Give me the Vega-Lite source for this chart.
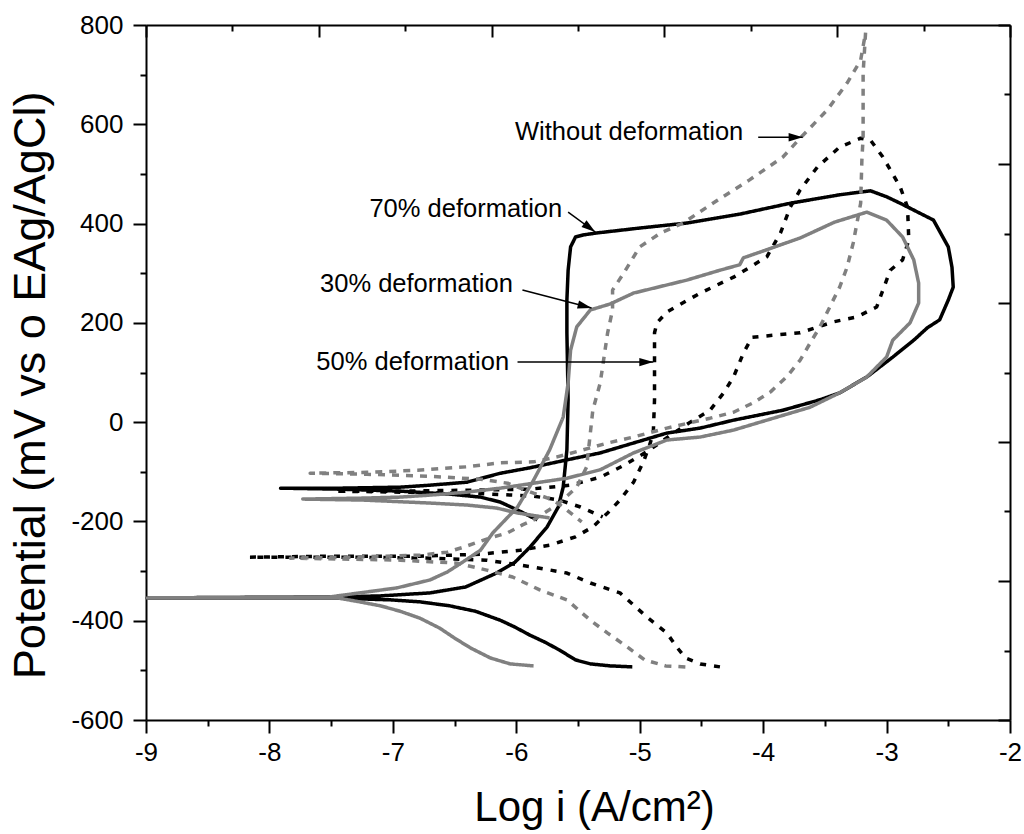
{
  "$schema": "https://vega.github.io/schema/vega-lite/v6.json",
  "width": 864,
  "height": 695,
  "autosize": "none",
  "padding": {"left": 146, "top": 25, "right": 14, "bottom": 114},
  "background": "white",
  "config": {
    "view": {"stroke": null},
    "font": "Liberation Sans",
    "axis": {
      "grid": false,
      "domainColor": "black",
      "domainWidth": 2,
      "tickColor": "black",
      "tickWidth": 2,
      "labelColor": "black",
      "labelFont": "Liberation Sans",
      "labelFontSize": 26,
      "titleFont": "Liberation Sans",
      "titleColor": "black",
      "titleFontWeight": "normal"
    }
  },
  "datasets": {
    "curves": [
      {"sample":"70%","idx":0,"logi":-5.06,"E":-493},{"sample":"70%","idx":1,"logi":-5.24,"E":-491},{"sample":"70%","idx":2,"logi":-5.40,"E":-487},{"sample":"70%","idx":3,"logi":-5.52,"E":-479},{"sample":"70%","idx":4,"logi":-5.65,"E":-459},{"sample":"70%","idx":5,"logi":-5.77,"E":-443},{"sample":"70%","idx":6,"logi":-5.89,"E":-429},{"sample":"70%","idx":7,"logi":-6.01,"E":-413},{"sample":"70%","idx":8,"logi":-6.13,"E":-399},{"sample":"70%","idx":9,"logi":-6.33,"E":-381},{"sample":"70%","idx":10,"logi":-6.54,"E":-370},{"sample":"70%","idx":11,"logi":-6.78,"E":-362},{"sample":"70%","idx":12,"logi":-7.02,"E":-358},{"sample":"70%","idx":13,"logi":-7.27,"E":-356},{"sample":"70%","idx":14,"logi":-7.45,"E":-354},{"sample":"70%","idx":15,"logi":-8.99,"E":-354},{"sample":"70%","idx":16,"logi":-7.43,"E":-352},{"sample":"70%","idx":17,"logi":-7.10,"E":-350},{"sample":"70%","idx":18,"logi":-6.70,"E":-344},{"sample":"70%","idx":19,"logi":-6.41,"E":-332},{"sample":"70%","idx":20,"logi":-6.16,"E":-304},{"sample":"70%","idx":21,"logi":-6.01,"E":-282},{"sample":"70%","idx":22,"logi":-5.89,"E":-252},{"sample":"70%","idx":23,"logi":-5.75,"E":-211},{"sample":"70%","idx":24,"logi":-5.66,"E":-171},{"sample":"70%","idx":25,"logi":-5.62,"E":-131},{"sample":"70%","idx":26,"logi":-5.59,"E":-56},{"sample":"70%","idx":27,"logi":-5.58,"E":45},{"sample":"70%","idx":28,"logi":-5.59,"E":180},{"sample":"70%","idx":29,"logi":-5.59,"E":246},{"sample":"70%","idx":30,"logi":-5.58,"E":306},{"sample":"70%","idx":31,"logi":-5.56,"E":353},{"sample":"70%","idx":32,"logi":-5.52,"E":373},{"sample":"70%","idx":33,"logi":-5.46,"E":377},{"sample":"70%","idx":34,"logi":-5.35,"E":381},{"sample":"70%","idx":35,"logi":-5.00,"E":391},{"sample":"70%","idx":36,"logi":-4.62,"E":401},{"sample":"70%","idx":37,"logi":-4.19,"E":419},{"sample":"70%","idx":38,"logi":-3.78,"E":441},{"sample":"70%","idx":39,"logi":-3.38,"E":458},{"sample":"70%","idx":40,"logi":-3.13,"E":466},{"sample":"70%","idx":41,"logi":-3.00,"E":454},{"sample":"70%","idx":42,"logi":-2.89,"E":441},{"sample":"70%","idx":43,"logi":-2.62,"E":407},{"sample":"70%","idx":44,"logi":-2.50,"E":353},{"sample":"70%","idx":45,"logi":-2.47,"E":312},{"sample":"70%","idx":46,"logi":-2.46,"E":272},{"sample":"70%","idx":47,"logi":-2.50,"E":246},{"sample":"70%","idx":48,"logi":-2.57,"E":206},{"sample":"70%","idx":49,"logi":-2.67,"E":190},{"sample":"70%","idx":50,"logi":-2.78,"E":165},{"sample":"70%","idx":51,"logi":-2.95,"E":131},{"sample":"70%","idx":52,"logi":-3.16,"E":91},{"sample":"70%","idx":53,"logi":-3.38,"E":59},{"sample":"70%","idx":54,"logi":-3.54,"E":45},{"sample":"70%","idx":55,"logi":-3.84,"E":24},{"sample":"70%","idx":56,"logi":-4.24,"E":4},{"sample":"70%","idx":57,"logi":-4.51,"E":-12},{"sample":"70%","idx":58,"logi":-4.78,"E":-22},{"sample":"70%","idx":59,"logi":-5.05,"E":-42},{"sample":"70%","idx":60,"logi":-5.32,"E":-62},{"sample":"70%","idx":61,"logi":-5.59,"E":-76},{"sample":"70%","idx":62,"logi":-5.89,"E":-92},{"sample":"70%","idx":63,"logi":-6.13,"E":-103},{"sample":"70%","idx":64,"logi":-6.40,"E":-121},{"sample":"70%","idx":65,"logi":-6.70,"E":-127},{"sample":"70%","idx":66,"logi":-6.94,"E":-131},{"sample":"70%","idx":67,"logi":-7.43,"E":-133},{"sample":"70%","idx":68,"logi":-7.91,"E":-133},{"sample":"70%","idx":69,"logi":-7.43,"E":-135},{"sample":"70%","idx":70,"logi":-6.94,"E":-139},{"sample":"70%","idx":71,"logi":-6.54,"E":-145},{"sample":"70%","idx":72,"logi":-6.29,"E":-151},{"sample":"70%","idx":73,"logi":-6.13,"E":-161},{"sample":"70%","idx":74,"logi":-5.99,"E":-177},{"sample":"70%","idx":75,"logi":-5.83,"E":-197},

      {"sample":"50%","idx":0,"logi":-4.35,"E":-493},{"sample":"50%","idx":1,"logi":-4.51,"E":-487},{"sample":"50%","idx":2,"logi":-4.63,"E":-475},{"sample":"50%","idx":3,"logi":-4.70,"E":-453},{"sample":"50%","idx":4,"logi":-4.78,"E":-425},{"sample":"50%","idx":5,"logi":-4.94,"E":-393},{"sample":"50%","idx":6,"logi":-5.16,"E":-344},{"sample":"50%","idx":7,"logi":-5.40,"E":-324},{"sample":"50%","idx":8,"logi":-5.59,"E":-304},{"sample":"50%","idx":9,"logi":-5.86,"E":-292},{"sample":"50%","idx":10,"logi":-6.24,"E":-278},{"sample":"50%","idx":11,"logi":-6.70,"E":-274},{"sample":"50%","idx":12,"logi":-7.35,"E":-272},{"sample":"50%","idx":13,"logi":-8.16,"E":-272},{"sample":"50%","idx":14,"logi":-7.51,"E":-270},{"sample":"50%","idx":15,"logi":-6.78,"E":-270},{"sample":"50%","idx":16,"logi":-6.29,"E":-266},{"sample":"50%","idx":17,"logi":-5.97,"E":-258},{"sample":"50%","idx":18,"logi":-5.73,"E":-248},{"sample":"50%","idx":19,"logi":-5.52,"E":-231},{"sample":"50%","idx":20,"logi":-5.38,"E":-211},{"sample":"50%","idx":21,"logi":-5.26,"E":-183},{"sample":"50%","idx":22,"logi":-5.16,"E":-157},{"sample":"50%","idx":23,"logi":-5.05,"E":-121},{"sample":"50%","idx":24,"logi":-4.97,"E":-80},{"sample":"50%","idx":25,"logi":-4.92,"E":-46},{"sample":"50%","idx":26,"logi":-4.89,"E":-22},{"sample":"50%","idx":27,"logi":-4.88,"E":45},{"sample":"50%","idx":28,"logi":-4.88,"E":111},{"sample":"50%","idx":29,"logi":-4.88,"E":180},{"sample":"50%","idx":30,"logi":-4.86,"E":200},{"sample":"50%","idx":31,"logi":-4.78,"E":222},{"sample":"50%","idx":32,"logi":-4.51,"E":260},{"sample":"50%","idx":33,"logi":-4.24,"E":292},{"sample":"50%","idx":34,"logi":-3.97,"E":333},{"sample":"50%","idx":35,"logi":-3.86,"E":381},{"sample":"50%","idx":36,"logi":-3.78,"E":433},{"sample":"50%","idx":37,"logi":-3.70,"E":468},{"sample":"50%","idx":38,"logi":-3.56,"E":514},{"sample":"50%","idx":39,"logi":-3.38,"E":554},{"sample":"50%","idx":40,"logi":-3.21,"E":572},{"sample":"50%","idx":41,"logi":-3.13,"E":568},{"sample":"50%","idx":42,"logi":-3.03,"E":534},{"sample":"50%","idx":43,"logi":-2.89,"E":474},{"sample":"50%","idx":44,"logi":-2.83,"E":433},{"sample":"50%","idx":45,"logi":-2.82,"E":367},{"sample":"50%","idx":46,"logi":-2.87,"E":327},{"sample":"50%","idx":47,"logi":-2.97,"E":306},{"sample":"50%","idx":48,"logi":-3.03,"E":266},{"sample":"50%","idx":49,"logi":-3.08,"E":232},{"sample":"50%","idx":50,"logi":-3.24,"E":212},{"sample":"50%","idx":51,"logi":-3.43,"E":202},{"sample":"50%","idx":52,"logi":-3.70,"E":180},{"sample":"50%","idx":53,"logi":-3.92,"E":175},{"sample":"50%","idx":54,"logi":-4.09,"E":171},{"sample":"50%","idx":55,"logi":-4.16,"E":139},{"sample":"50%","idx":56,"logi":-4.24,"E":91},{"sample":"50%","idx":57,"logi":-4.32,"E":59},{"sample":"50%","idx":58,"logi":-4.43,"E":24},{"sample":"50%","idx":59,"logi":-4.59,"E":0},{"sample":"50%","idx":60,"logi":-4.75,"E":-26},{"sample":"50%","idx":61,"logi":-4.92,"E":-56},{"sample":"50%","idx":62,"logi":-5.12,"E":-86},{"sample":"50%","idx":63,"logi":-5.32,"E":-111},{"sample":"50%","idx":64,"logi":-5.56,"E":-127},{"sample":"50%","idx":65,"logi":-5.89,"E":-135},{"sample":"50%","idx":66,"logi":-6.37,"E":-137},{"sample":"50%","idx":67,"logi":-6.94,"E":-139},{"sample":"50%","idx":68,"logi":-7.47,"E":-139},{"sample":"50%","idx":69,"logi":-6.94,"E":-141},{"sample":"50%","idx":70,"logi":-6.37,"E":-143},{"sample":"50%","idx":71,"logi":-5.86,"E":-149},{"sample":"50%","idx":72,"logi":-5.65,"E":-157},{"sample":"50%","idx":73,"logi":-5.48,"E":-171},{"sample":"50%","idx":74,"logi":-5.30,"E":-191},

      {"sample":"0%","idx":0,"logi":-4.63,"E":-493},{"sample":"0%","idx":1,"logi":-4.79,"E":-491},{"sample":"0%","idx":2,"logi":-4.96,"E":-479},{"sample":"0%","idx":3,"logi":-5.10,"E":-453},{"sample":"0%","idx":4,"logi":-5.26,"E":-425},{"sample":"0%","idx":5,"logi":-5.40,"E":-399},{"sample":"0%","idx":6,"logi":-5.59,"E":-358},{"sample":"0%","idx":7,"logi":-5.81,"E":-338},{"sample":"0%","idx":8,"logi":-6.03,"E":-312},{"sample":"0%","idx":9,"logi":-6.24,"E":-298},{"sample":"0%","idx":10,"logi":-6.48,"E":-284},{"sample":"0%","idx":11,"logi":-6.94,"E":-278},{"sample":"0%","idx":12,"logi":-7.35,"E":-276},{"sample":"0%","idx":13,"logi":-7.83,"E":-274},{"sample":"0%","idx":14,"logi":-7.35,"E":-272},{"sample":"0%","idx":15,"logi":-6.78,"E":-268},{"sample":"0%","idx":16,"logi":-6.56,"E":-262},{"sample":"0%","idx":17,"logi":-6.43,"E":-252},{"sample":"0%","idx":18,"logi":-6.21,"E":-233},{"sample":"0%","idx":19,"logi":-6.07,"E":-223},{"sample":"0%","idx":20,"logi":-5.95,"E":-207},{"sample":"0%","idx":21,"logi":-5.86,"E":-197},{"sample":"0%","idx":22,"logi":-5.65,"E":-163},{"sample":"0%","idx":23,"logi":-5.51,"E":-131},{"sample":"0%","idx":24,"logi":-5.43,"E":-90},{"sample":"0%","idx":25,"logi":-5.40,"E":-22},{"sample":"0%","idx":26,"logi":-5.38,"E":24},{"sample":"0%","idx":27,"logi":-5.32,"E":79},{"sample":"0%","idx":28,"logi":-5.26,"E":180},{"sample":"0%","idx":29,"logi":-5.22,"E":226},{"sample":"0%","idx":30,"logi":-5.22,"E":266},{"sample":"0%","idx":31,"logi":-5.13,"E":300},{"sample":"0%","idx":32,"logi":-5.00,"E":353},{"sample":"0%","idx":33,"logi":-4.83,"E":381},{"sample":"0%","idx":34,"logi":-4.65,"E":401},{"sample":"0%","idx":35,"logi":-4.37,"E":447},{"sample":"0%","idx":36,"logi":-4.11,"E":488},{"sample":"0%","idx":37,"logi":-3.84,"E":534},{"sample":"0%","idx":38,"logi":-3.70,"E":572},{"sample":"0%","idx":39,"logi":-3.48,"E":629},{"sample":"0%","idx":40,"logi":-3.32,"E":683},{"sample":"0%","idx":41,"logi":-3.21,"E":729},{"sample":"0%","idx":42,"logi":-3.17,"E":785},{"sample":"0%","idx":43,"logi":-3.19,"E":703},{"sample":"0%","idx":44,"logi":-3.19,"E":643},{"sample":"0%","idx":45,"logi":-3.19,"E":574},{"sample":"0%","idx":46,"logi":-3.20,"E":528},{"sample":"0%","idx":47,"logi":-3.21,"E":441},{"sample":"0%","idx":48,"logi":-3.27,"E":361},{"sample":"0%","idx":49,"logi":-3.32,"E":312},{"sample":"0%","idx":50,"logi":-3.38,"E":272},{"sample":"0%","idx":51,"logi":-3.46,"E":232},{"sample":"0%","idx":52,"logi":-3.54,"E":192},{"sample":"0%","idx":53,"logi":-3.62,"E":159},{"sample":"0%","idx":54,"logi":-3.70,"E":125},{"sample":"0%","idx":55,"logi":-3.81,"E":91},{"sample":"0%","idx":56,"logi":-3.94,"E":61},{"sample":"0%","idx":57,"logi":-4.08,"E":39},{"sample":"0%","idx":58,"logi":-4.24,"E":20},{"sample":"0%","idx":59,"logi":-4.43,"E":8},{"sample":"0%","idx":60,"logi":-4.78,"E":-12},{"sample":"0%","idx":61,"logi":-5.05,"E":-30},{"sample":"0%","idx":62,"logi":-5.26,"E":-42},{"sample":"0%","idx":63,"logi":-5.46,"E":-56},{"sample":"0%","idx":64,"logi":-5.67,"E":-70},{"sample":"0%","idx":65,"logi":-5.86,"E":-80},{"sample":"0%","idx":66,"logi":-6.13,"E":-82},{"sample":"0%","idx":67,"logi":-6.40,"E":-90},{"sample":"0%","idx":68,"logi":-6.80,"E":-97},{"sample":"0%","idx":69,"logi":-7.21,"E":-101},{"sample":"0%","idx":70,"logi":-7.67,"E":-103},{"sample":"0%","idx":71,"logi":-7.21,"E":-105},{"sample":"0%","idx":72,"logi":-6.70,"E":-109},{"sample":"0%","idx":73,"logi":-6.29,"E":-115},{"sample":"0%","idx":74,"logi":-6.07,"E":-123},{"sample":"0%","idx":75,"logi":-5.86,"E":-143},{"sample":"0%","idx":76,"logi":-5.70,"E":-157},{"sample":"0%","idx":77,"logi":-5.59,"E":-177},{"sample":"0%","idx":78,"logi":-5.47,"E":-201},

      {"sample":"30%","idx":0,"logi":-5.86,"E":-491},{"sample":"30%","idx":1,"logi":-6.05,"E":-487},{"sample":"30%","idx":2,"logi":-6.21,"E":-475},{"sample":"30%","idx":3,"logi":-6.37,"E":-455},{"sample":"30%","idx":4,"logi":-6.50,"E":-435},{"sample":"30%","idx":5,"logi":-6.62,"E":-415},{"sample":"30%","idx":6,"logi":-6.78,"E":-395},{"sample":"30%","idx":7,"logi":-6.94,"E":-381},{"sample":"30%","idx":8,"logi":-7.10,"E":-370},{"sample":"30%","idx":9,"logi":-7.27,"E":-362},{"sample":"30%","idx":10,"logi":-7.45,"E":-354},{"sample":"30%","idx":11,"logi":-8.99,"E":-354},{"sample":"30%","idx":12,"logi":-7.51,"E":-352},{"sample":"30%","idx":13,"logi":-6.97,"E":-334},{"sample":"30%","idx":14,"logi":-6.70,"E":-318},{"sample":"30%","idx":15,"logi":-6.56,"E":-302},{"sample":"30%","idx":16,"logi":-6.41,"E":-278},{"sample":"30%","idx":17,"logi":-6.29,"E":-258},{"sample":"30%","idx":18,"logi":-6.19,"E":-223},{"sample":"30%","idx":19,"logi":-6.09,"E":-197},{"sample":"30%","idx":20,"logi":-5.99,"E":-171},{"sample":"30%","idx":21,"logi":-5.86,"E":-117},{"sample":"30%","idx":22,"logi":-5.73,"E":-56},{"sample":"30%","idx":23,"logi":-5.62,"E":10},{"sample":"30%","idx":24,"logi":-5.58,"E":79},{"sample":"30%","idx":25,"logi":-5.56,"E":145},{"sample":"30%","idx":26,"logi":-5.51,"E":192},{"sample":"30%","idx":27,"logi":-5.40,"E":226},{"sample":"30%","idx":28,"logi":-5.24,"E":238},{"sample":"30%","idx":29,"logi":-5.05,"E":260},{"sample":"30%","idx":30,"logi":-4.62,"E":286},{"sample":"30%","idx":31,"logi":-4.35,"E":306},{"sample":"30%","idx":32,"logi":-4.19,"E":317},{"sample":"30%","idx":33,"logi":-4.16,"E":331},{"sample":"30%","idx":34,"logi":-4.02,"E":343},{"sample":"30%","idx":35,"logi":-3.70,"E":371},{"sample":"30%","idx":36,"logi":-3.42,"E":403},{"sample":"30%","idx":37,"logi":-3.16,"E":423},{"sample":"30%","idx":38,"logi":-3.00,"E":407},{"sample":"30%","idx":39,"logi":-2.87,"E":373},{"sample":"30%","idx":40,"logi":-2.78,"E":327},{"sample":"30%","idx":41,"logi":-2.74,"E":280},{"sample":"30%","idx":42,"logi":-2.74,"E":240},{"sample":"30%","idx":43,"logi":-2.81,"E":200},{"sample":"30%","idx":44,"logi":-2.89,"E":180},{"sample":"30%","idx":45,"logi":-2.95,"E":165},{"sample":"30%","idx":46,"logi":-3.00,"E":131},{"sample":"30%","idx":47,"logi":-3.16,"E":91},{"sample":"30%","idx":48,"logi":-3.38,"E":59},{"sample":"30%","idx":49,"logi":-3.62,"E":30},{"sample":"30%","idx":50,"logi":-3.97,"E":4},{"sample":"30%","idx":51,"logi":-4.24,"E":-16},{"sample":"30%","idx":52,"logi":-4.51,"E":-30},{"sample":"30%","idx":53,"logi":-4.78,"E":-36},{"sample":"30%","idx":54,"logi":-5.05,"E":-62},{"sample":"30%","idx":55,"logi":-5.32,"E":-96},{"sample":"30%","idx":56,"logi":-5.59,"E":-113},{"sample":"30%","idx":57,"logi":-5.86,"E":-123},{"sample":"30%","idx":58,"logi":-6.13,"E":-133},{"sample":"30%","idx":59,"logi":-6.40,"E":-141},{"sample":"30%","idx":60,"logi":-6.70,"E":-147},{"sample":"30%","idx":61,"logi":-6.94,"E":-151},{"sample":"30%","idx":62,"logi":-7.24,"E":-153},{"sample":"30%","idx":63,"logi":-7.73,"E":-155},{"sample":"30%","idx":64,"logi":-7.24,"E":-157},{"sample":"30%","idx":65,"logi":-6.70,"E":-163},{"sample":"30%","idx":66,"logi":-6.40,"E":-167},{"sample":"30%","idx":67,"logi":-6.16,"E":-173},{"sample":"30%","idx":68,"logi":-5.99,"E":-183},{"sample":"30%","idx":69,"logi":-5.73,"E":-193}
    ],
    "notes": [
      {"label": "Without deformation", "logi": -6.01, "E": 568},
      {"label": "70% deformation", "logi": -7.19, "E": 413},
      {"label": "30% deformation", "logi": -7.59, "E": 262},
      {"label": "50% deformation", "logi": -7.62, "E": 105}
    ],
    "arrows": [
      {"label": "Without deformation", "logi": -4.04, "E": 574, "logi2": -3.68, "E2": 574},
      {"label": "70% deformation", "logi": -5.58, "E": 423, "logi2": -5.36, "E2": 383},
      {"label": "30% deformation", "logi": -5.95, "E": 266, "logi2": -5.39, "E2": 230},
      {"label": "50% deformation", "logi": -5.99, "E": 121, "logi2": -4.89, "E2": 121}
    ]
  },
  "layer": [
    {
      "layer": [
        {
          "data": {"name": "curves"},
          "mark": {"type": "line", "strokeWidth": 3.5, "strokeCap": "butt", "strokeJoin": "round"},
          "encoding": {
            "x": {
              "field": "logi", "type": "quantitative",
              "scale": {"domain": [-9, -2], "nice": false, "zero": false},
              "axis": {
                "orient": "bottom",
                "values": [-9, -8.5, -8, -7.5, -7, -6.5, -6, -5.5, -5, -4.5, -4, -3.5, -3, -2.5, -2],
                "tickSize": {"condition": {"test": "datum.value % 1 === 0", "value": 13}, "value": 6},
                "labelExpr": "datum.value % 1 === 0 ? '' + datum.value : ''",
                "labelOverlap": false,
                "labelFlush": false,
                "labelBound": false,
                "labelPadding": 6,
                "title": "Log i (A/cm²)",
                "titleFontSize": 42,
                "titleX": 448,
                "titleY": 100,
                "titleAlign": "center",
                "titleBaseline": "alphabetic"
              }
            },
            "y": {
              "field": "E", "type": "quantitative",
              "scale": {"domain": [-600, 800], "nice": false, "zero": false},
              "axis": {
                "orient": "left",
                "values": [-600, -500, -400, -300, -200, -100, 0, 100, 200, 300, 400, 500, 600, 700, 800],
                "tickSize": {"condition": {"test": "datum.value % 200 === 0", "value": 13}, "value": 6},
                "labelExpr": "datum.value % 200 === 0 ? '' + datum.value : ''",
                "labelOverlap": false,
                "labelFlush": false,
                "labelBound": false,
                "labelPadding": 10,
                "title": "Potential (mV vs o EAg/AgCl)",
                "titleFontSize": 45,
                "titleAngle": -90,
                "titleX": -116,
                "titleY": 360,
                "titleAlign": "center",
                "titleBaseline": "middle"
              }
            },
            "order": {"field": "idx", "type": "quantitative"},
            "color": {
              "field": "sample", "type": "nominal",
              "scale": {"domain": ["70%", "50%", "0%", "30%"], "range": ["#000000", "#000000", "#808080", "#808080"]},
              "legend": null
            },
            "strokeDash": {
              "field": "sample", "type": "nominal",
              "scale": {"domain": ["70%", "50%", "0%", "30%"], "range": [[1, 0], [6, 8], [7, 7], [1, 0]]},
              "legend": null
            }
          }
        },
        {
          "data": {"name": "arrows"},
          "mark": {"type": "rule", "color": "black", "strokeWidth": 1.5},
          "encoding": {
            "x": {"field": "logi", "type": "quantitative"},
            "y": {"field": "E", "type": "quantitative"},
            "x2": {"field": "logi2"},
            "y2": {"field": "E2"}
          }
        },
        {
          "data": {"name": "arrows"},
          "transform": [{"filter": "datum.label === 'Without deformation' || datum.label === '50% deformation'"}],
          "mark": {"type": "point", "shape": "M0,0L-2,-0.6L-2,0.6Z", "size": 196, "filled": true, "color": "black", "opacity": 1, "angle": 0},
          "encoding": {
            "x": {"field": "logi2", "type": "quantitative"},
            "y": {"field": "E2", "type": "quantitative"}
          }
        },
        {
          "data": {"name": "arrows"},
          "transform": [{"filter": "datum.label === '70% deformation'"}],
          "mark": {"type": "point", "shape": "M0,0L-2,-0.6L-2,0.6Z", "size": 196, "filled": true, "color": "black", "opacity": 1, "angle": 36.5},
          "encoding": {
            "x": {"field": "logi2", "type": "quantitative"},
            "y": {"field": "E2", "type": "quantitative"}
          }
        },
        {
          "data": {"name": "arrows"},
          "transform": [{"filter": "datum.label === '30% deformation'"}],
          "mark": {"type": "point", "shape": "M0,0L-2,-0.6L-2,0.6Z", "size": 196, "filled": true, "color": "black", "opacity": 1, "angle": 14.4},
          "encoding": {
            "x": {"field": "logi2", "type": "quantitative"},
            "y": {"field": "E2", "type": "quantitative"}
          }
        },
        {
          "data": {"name": "notes"},
          "mark": {"type": "text", "align": "left", "baseline": "alphabetic", "fontSize": 25.5, "font": "Liberation Sans", "color": "black"},
          "encoding": {
            "x": {"field": "logi", "type": "quantitative"},
            "y": {"field": "E", "type": "quantitative"},
            "text": {"field": "label"}
          }
        }
      ]
    },
    {
      "data": {"name": "curves"},
      "mark": {"type": "point", "opacity": 0},
      "encoding": {
        "x": {
          "field": "logi", "type": "quantitative",
          "scale": {"domain": [-9, -2], "nice": false, "zero": false},
          "axis": {
            "orient": "top",
            "values": [-9, -8.3, -7.6, -6.9, -6.2, -5.5, -4.8, -4.1, -3.4, -2.7, -2],
            "tickSize": {"condition": {"test": "round((datum.value + 9) / 0.7) % 2 === 0", "value": -12}, "value": -6},
            "labels": false,
            "title": null
          }
        },
        "y": {
          "field": "E", "type": "quantitative",
          "scale": {"domain": [-600, 800], "nice": false, "zero": false},
          "axis": {
            "orient": "right",
            "values": [-600, -460, -320, -180, -40, 100, 240, 380, 520, 660, 800],
            "tickSize": {"condition": {"test": "round((datum.value + 600) / 140) % 2 === 0", "value": -12}, "value": -6},
            "labels": false,
            "title": null
          }
        }
      }
    }
  ],
  "resolve": {"scale": {"x": "independent", "y": "independent"}}
}
